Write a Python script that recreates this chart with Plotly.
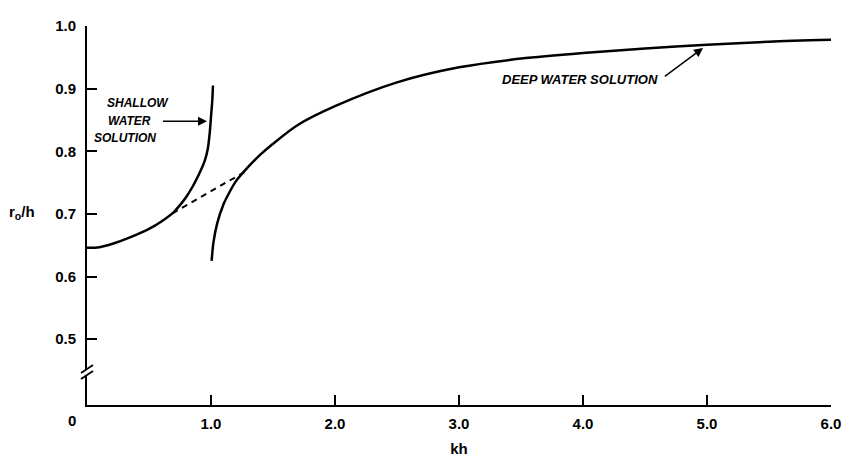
import plotly.graph_objects as go

# Shallow water solution
shallow_kh = [0.0, 0.1, 0.2, 0.3, 0.4, 0.5, 0.6, 0.7, 0.75, 0.8, 0.85, 0.9, 0.95, 0.975, 0.99, 1.0, 1.01, 1.016]
shallow_r = [0.646, 0.647, 0.652, 0.659, 0.667, 0.676, 0.688, 0.703, 0.714, 0.727, 0.743, 0.762, 0.785, 0.805, 0.830, 0.855, 0.880, 0.905]

# Deep water solution
deep_kh = [1.005, 1.02, 1.05, 1.1, 1.15, 1.2, 1.3, 1.4, 1.5, 1.7, 2.0, 2.5, 3.0, 3.5, 4.0, 4.5, 5.0, 5.5, 6.0]
deep_r = [0.625, 0.655, 0.685, 0.715, 0.735, 0.752, 0.775, 0.795, 0.812, 0.842, 0.872, 0.910, 0.934, 0.948, 0.957, 0.964, 0.970, 0.975, 0.978]

# Dashed transition
dash_kh = [0.689, 1.271]
dash_r = [0.701, 0.767]

x_ticks = [1.0, 2.0, 3.0, 4.0, 5.0, 6.0]
x_labels = ["1.0", "2.0", "3.0", "4.0", "5.0", "6.0"]
y_ticks = [0.5, 0.6, 0.7, 0.8, 0.9, 1.0]
y_labels = ["0.5", "0.6", "0.7", "0.8", "0.9", "1.0"]

FONT = "Liberation Sans"
TICKFONT = dict(family=FONT, size=15, weight="bold", color="black")

fig = go.Figure()
fig.add_trace(go.Scatter(x=shallow_kh, y=shallow_r, mode="lines",
                         line=dict(color="black", width=2.5, shape="spline", smoothing=0.8),
                         showlegend=False, hoverinfo="skip"))
fig.add_trace(go.Scatter(x=deep_kh, y=deep_r, mode="lines",
                         line=dict(color="black", width=2.5, shape="spline", smoothing=0.8),
                         showlegend=False, hoverinfo="skip"))
fig.add_trace(go.Scatter(x=dash_kh, y=dash_r, mode="lines",
                         line=dict(color="black", width=2, dash="6px,5px"),
                         showlegend=False, hoverinfo="skip"))

fig.update_layout(
    width=843, height=459,
    margin=dict(l=87, r=12, t=26, b=54),
    paper_bgcolor="white", plot_bgcolor="white",
    font=dict(family=FONT, color="black"),
    xaxis=dict(range=[0, 6.0], tickvals=x_ticks, ticktext=x_labels, automargin=False,
               ticks="inside", ticklen=10, tickwidth=1.5, tickcolor="black",
               showline=True, linecolor="black", linewidth=2,
               showgrid=False, zeroline=False, tickfont=TICKFONT, ticklabelstandoff=4,
               title=dict(text="kh", font=TICKFONT, standoff=12)),
    yaxis=dict(range=[0.395, 1.0], tickvals=y_ticks, ticktext=y_labels, automargin=False,
               ticks="inside", ticklen=10, tickwidth=1.5, tickcolor="black",
               showline=True, linecolor="black", linewidth=2,
               showgrid=False, zeroline=False, tickfont=TICKFONT, ticklabelstandoff=6),
)

ann_font = dict(family=FONT, size=12, color="black", weight="bold", style="italic")
deep_font = dict(family=FONT, size=13, color="black", weight="bold", style="italic")
annotations = [
    dict(text="SHALLOW", x=0.411, y=0.877, xref="x", yref="y", showarrow=False, font=ann_font),
    dict(text="WATER", x=0.968, y=0.848, ax=0.532, ay=0.848, xref="x", yref="y", axref="x", ayref="y",
         xanchor="right", yanchor="middle", font=ann_font,
         showarrow=True, arrowhead=2, arrowsize=1.2, arrowwidth=1.5, arrowcolor="black", startstandoff=10),
    dict(text="SOLUTION", x=0.306, y=0.821, xref="x", yref="y", showarrow=False, font=ann_font),
    dict(text="DEEP WATER SOLUTION", x=4.968, y=0.965, ax=4.621, ay=0.914, xref="x", yref="y",
         axref="x", ayref="y", xanchor="right", yanchor="middle", font=deep_font,
         showarrow=True, arrowhead=2, arrowsize=1.2, arrowwidth=1.5, arrowcolor="black", startstandoff=6),
    dict(text="0", x=-0.0202, y=-0.0396, xref="paper", yref="paper", xanchor="center", yanchor="middle",
         showarrow=False, font=TICKFONT),
    dict(text="r<sub>o</sub>/h", x=-0.0874, y=0.703, xref="paper", yref="y", xanchor="center",
         yanchor="middle", showarrow=False, font=TICKFONT),
]
fig.update_layout(annotations=annotations)

# axis break mark
shapes = [
    dict(type="rect", xref="paper", yref="paper", x0=-0.004, x1=0.004, y0=0.0792, y1=0.095,
         fillcolor="white", line=dict(width=0), layer="above"),
    dict(type="line", xref="paper", yref="paper", x0=-0.00806, y0=0.0686, x1=0.00806, y1=0.0897,
         line=dict(color="black", width=1.8), layer="above"),
    dict(type="line", xref="paper", yref="paper", x0=-0.00806, y0=0.0844, x1=0.00806, y1=0.1055,
         line=dict(color="black", width=1.8), layer="above"),
]
fig.update_layout(shapes=shapes)

# remove the default 8px body margin so the figure sits at the window origin
fig.write_html("out.html", config={"displayModeBar": False},
               post_script="document.body.style.margin='0';")
